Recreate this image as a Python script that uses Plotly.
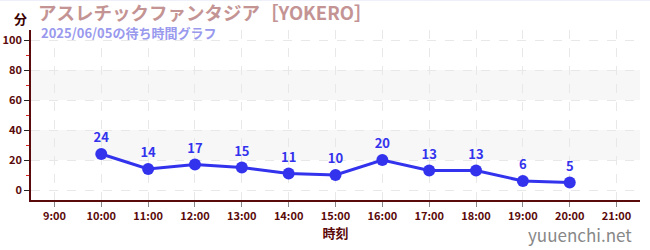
import plotly.graph_objects as go

times = ["10:00", "11:00", "12:00", "13:00", "14:00", "15:00", "16:00", "17:00", "18:00", "19:00", "20:00"]
hours = [10, 11, 12, 13, 14, 15, 16, 17, 18, 19, 20]
waits = [24, 14, 17, 15, 11, 10, 20, 13, 13, 6, 5]
tick_hours = list(range(9, 22))
tick_labels = [f"{h}:00" for h in tick_hours]
y_ticks = [0, 20, 40, 60, 80, 100]

FONT = "Noto Sans CJK JP"
DARK = "#5a0a0a"
BLUE = "#3333ee"

fig = go.Figure()
fig.add_trace(go.Scatter(
    x=hours, y=waits, mode="lines+markers+text",
    text=[str(v) for v in waits], textposition="top center",
    textfont=dict(family=FONT, size=13, color=BLUE, weight="bold"),
    line=dict(color=BLUE, width=3),
    marker=dict(color=BLUE, size=12),
    cliponaxis=False, hoverinfo="skip",
))

for y0, y1 in [(20, 40), (60, 80)]:
    fig.add_shape(type="rect", xref="paper", x0=0, x1=1, yref="y", y0=y0, y1=y1,
                  fillcolor="#f7f7f7", line_width=0, layer="below")
fig.add_shape(type="line", xref="paper", yref="paper", x0=-0.1, x1=1.1, y0=1.176, y1=1.176,
              line=dict(color="#e4e4f8", width=1))

fig.update_layout(
    width=650, height=250, margin=dict(l=31, r=10, t=30, b=50, autoexpand=False),
    plot_bgcolor="white", paper_bgcolor="white", showlegend=False,
    font=dict(family=FONT, color=DARK),
    xaxis=dict(range=[8.5, 21.5], tickvals=tick_hours, ticktext=tick_labels,
               showgrid=True, gridcolor="#e8e8e8", griddash="dash", gridwidth=1,
               showline=True, linecolor=DARK, linewidth=1.5,
               ticks="outside", ticklen=5, tickcolor="#888888",
               tickfont=dict(family=FONT, size=11, color=DARK, weight="bold"),
               zeroline=False, fixedrange=True, automargin=False,
               title=dict(text="時刻", font=dict(family=FONT, size=13, color=DARK, weight="bold"), standoff=4)),
    yaxis=dict(range=[-6.67, 106.7], tickvals=y_ticks,
               showgrid=True, gridcolor="#e8e8e8", griddash="dash", gridwidth=1,
               showline=True, linecolor=DARK, linewidth=1.5,
               ticks="outside", ticklen=5, tickcolor="#222222",
               tickfont=dict(family=FONT, size=11, color=DARK, weight="bold"),
               minor=dict(tickvals=[10, 30, 50, 70, 90], ticks="outside", ticklen=3, tickcolor="#dd2222", showgrid=False),
               zeroline=False, fixedrange=True, automargin=False),
    annotations=[
        dict(text="アスレチックファンタジア［YOKERO］", xref="paper", yref="paper", x=0, y=1.0,
             xanchor="left", yanchor="middle", yshift=18, xshift=5, showarrow=False,
             font=dict(family=FONT, size=18.5, color="#c49494", weight="bold")),
        dict(text="分", xref="paper", yref="paper", x=0, y=1.0, xanchor="right", yanchor="middle",
             xshift=-2, yshift=12, showarrow=False,
             font=dict(family=FONT, size=13, color="#3a0000", weight="bold")),
        dict(text="2025/06/05の待ち時間グラフ", xref="paper", yref="paper", x=0, y=1.0,
             xanchor="left", yanchor="middle", xshift=8, yshift=-2, showarrow=False,
             font=dict(family=FONT, size=13, color="#9999ee", weight="bold")),
        dict(text="yuuenchi.net", xref="paper", yref="paper", x=1, y=0, xanchor="right", yanchor="middle",
             xshift=-6, yshift=-34, showarrow=False,
             font=dict(family=FONT, size=17, color="#888888")),
    ],
)

fig.write_html("out.html")
